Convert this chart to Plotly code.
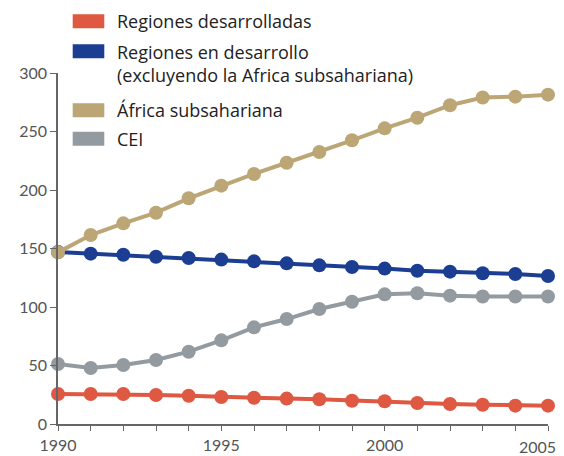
import plotly.graph_objects as go

years = list(range(1990, 2006))
desarrolladas = [25.6, 25.6, 25.6, 24.8, 24.2, 23.1, 22.5, 21.7, 21.1, 19.9, 19.4, 17.9, 17.1, 16.5, 15.7, 15.7]
en_desarrollo = [147, 145.6, 144.7, 143, 141.9, 140.5, 139, 137.3, 135.6, 134.2, 132.8, 131, 130.2, 128.8, 128.2, 126.5]
africa = [146.7, 161.5, 171.5, 180.6, 192.9, 203.7, 213.7, 223.3, 232.5, 242.5, 252.7, 261.8, 272.5, 279, 279.8, 281.5]
cei = [51.3, 47.9, 50.4, 54.7, 61.8, 71.5, 82.6, 89.7, 98.3, 104.5, 110.8, 111.7, 109.7, 109, 109, 109]

series_names = ["Regiones desarrolladas",
                "Regiones en desarrollo<br>(excluyendo la Africa subsahariana)",
                "África subsahariana", "CEI"]
colors = ["#de5842", "#1b3e93", "#bca676", "#939ba1"]
x_labeled = [1990, 1995, 2000]
last_year_label = "2005"
y_tickvals = [0, 50, 100, 150, 200, 250, 300]

fig = go.Figure()
order = [(cei, 3), (desarrolladas, 0), (en_desarrollo, 1), (africa, 2)]
for vals, i in order:
    fig.add_trace(go.Scatter(
        x=years, y=vals, mode="lines+markers",
        line=dict(color=colors[i], width=4),
        marker=dict(color=colors[i], size=14),
        cliponaxis=False, showlegend=False, name=series_names[i]))

PW, PH = 490, 351
def px(xi):
    return (xi - 58) / PW
def py(yi):
    return (424 - yi) / PH

# (swatch top, text center)
rows = [(14.3, 21.3), (44.3, 63.0), (103.3, 110.3), (131.7, 138.7)]
for i, (top, tc) in enumerate(rows):
    fig.add_shape(type="rect", xref="paper", yref="paper",
                  x0=px(72.7), x1=px(104.3),
                  y0=py(top), y1=py(top + 14),
                  fillcolor=colors[i], line=dict(width=0), layer="above")
    fig.add_annotation(xref="paper", yref="paper", x=px(115),
                       y=py(tc), xanchor="left", yanchor="middle",
                       text=series_names[i], showarrow=False, align="left",
                       font=dict(size=18, color="#222222", family="Open Sans"))

fig.add_annotation(xref="x", yref="paper", x=2005, y=0, xanchor="right",
                   yanchor="top", yshift=-11, xshift=10, text=last_year_label,
                   showarrow=False, font=dict(size=16, color="#555555", family="Lato"))

fig.update_layout(
    width=556, height=448,
    margin=dict(l=50, r=16, t=65, b=32),
    paper_bgcolor="white", plot_bgcolor="white",
    font=dict(family="Lato", color="#555555", size=16),
)
fig.update_xaxes(range=[1990, 2005], showgrid=False, zeroline=False,
                 showline=True, linecolor="#666666", linewidth=1.5,
                 tickmode="array", tickvals=years,
                 ticktext=[str(y) if y in x_labeled else "" for y in years],
                 ticks="outside", ticklen=5, tickcolor="#666666", tickwidth=1,
                 ticklabelstandoff=1,
                 automargin=False, ticklabeloverflow="allow")
fig.update_yaxes(range=[0, 300], showgrid=False, zeroline=False,
                 showline=True, linecolor="#666666", linewidth=1.5,
                 tickmode="array", tickvals=y_tickvals,
                 ticks="outside", ticklen=6, tickcolor="#666666", tickwidth=1,
                 automargin=False, ticklabeloverflow="allow")

fig.write_html("out.html")
